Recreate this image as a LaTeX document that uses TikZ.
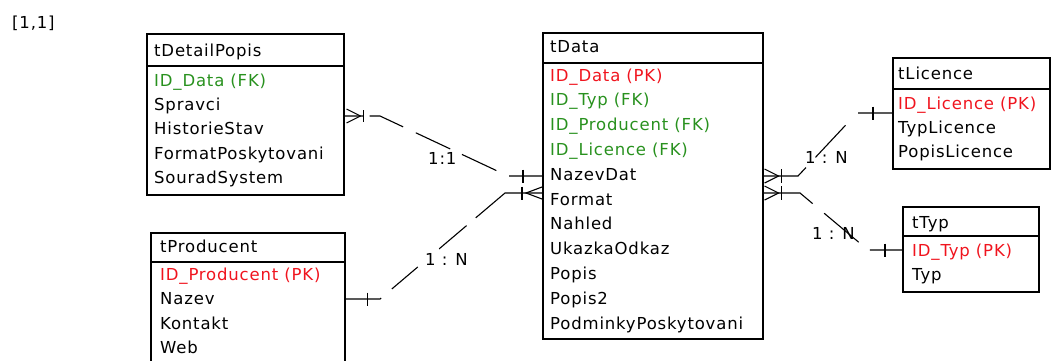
\documentclass[tikz,border=0pt]{standalone}
\usepackage{fontspec}
\setmainfont{DejaVu Sans}[LetterSpace=5]
\definecolor{pkred}{RGB}{240,20,30}
\definecolor{fkgreen}{RGB}{40,145,30}
\tikzset{
  tbl/.style={draw, line width=1.5pt, inner sep=0pt, anchor=north west},
  fld/.style={anchor=base west, inner sep=0pt, font=\fontsize{16.5}{19}\selectfont},
  link/.style={line width=1.1pt},
  foot/.style={line width=1.1pt},
}
\begin{document}
\begin{tikzpicture}[x=1pt,y=-1pt]
\useasboundingbox (0,0) rectangle (1051,360);
\clip (0,0) rectangle (1051,360);

\node[fld] (page) at (12,28) {[1,1]};

% ---- tDetailPopis
\node[tbl, minimum width=197pt, minimum height=32pt] (dpHead) at (146,33) {};
\node[tbl, minimum width=197pt, minimum height=129pt] (dpBody) at (146,65) {};
\node[fld] (dpT) at (154,56) {tDetailPopis};
\foreach \t/\c [count=\i from 0] in {{ID\_Data (FK)}/fkgreen, Spravci/black,
    HistorieStav/black, FormatPoskytovani/black, SouradSystem/black}
  \node[fld, text=\c] (dp\i) at (154,{86+24.4*\i}) {\t};

% ---- tProducent
\node[tbl, minimum width=194pt, minimum height=29pt] (prHead) at (150,232) {};
\node[tbl, minimum width=194pt, minimum height=120pt] (prBody) at (150,261) {};
\node[fld] (prT) at (160,252) {tProducent};
\foreach \t/\c [count=\i from 0] in {{ID\_Producent (PK)}/pkred, Nazev/black,
    Kontakt/black, Web/black}
  \node[fld, text=\c] (pr\i) at (160,{280+24.6*\i}) {\t};

% ---- tData
\node[tbl, minimum width=220pt, minimum height=30pt] (daHead) at (542,32) {};
\node[tbl, minimum width=220pt, minimum height=276pt] (daBody) at (542,62) {};
\node[fld] (daT) at (550,52) {tData};
\foreach \t/\c [count=\i from 0] in {{ID\_Data (PK)}/pkred, {ID\_Typ (FK)}/fkgreen,
    {ID\_Producent (FK)}/fkgreen, {ID\_Licence (FK)}/fkgreen, NazevDat/black,
    Format/black, Nahled/black, UkazkaOdkaz/black, Popis/black, Popis2/black,
    PodminkyPoskytovani/black}
  \node[fld, text=\c] (da\i) at (550,{81+24.8*\i}) {\t};

% ---- tLicence
\node[tbl, minimum width=157pt, minimum height=31pt] (liHead) at (892,57) {};
\node[tbl, minimum width=157pt, minimum height=80pt] (liBody) at (892,88) {};
\node[fld] (liT) at (898,79) {tLicence};
\foreach \t/\c [count=\i from 0] in {{ID\_Licence (PK)}/pkred, TypLicence/black,
    PopisLicence/black}
  \node[fld, text=\c] (li\i) at (898,{109+24*\i}) {\t};

% ---- tTyp
\node[tbl, minimum width=136pt, minimum height=29pt] (tyHead) at (902,206) {};
\node[tbl, minimum width=136pt, minimum height=56pt] (tyBody) at (902,235) {};
\node[fld] (tyT) at (912,228) {tTyp};
\foreach \t/\c [count=\i from 0] in {{ID\_Typ (PK)}/pkred, Typ/black}
  \node[fld, text=\c] (ty\i) at (912,{256+24*\i}) {\t};

% ---- connector end points on the table edges
\coordinate (e1) at (dpBody.east |- 0,116);
\coordinate (e2) at (daBody.west |- 0,176);
\coordinate (e3) at (prBody.east |- 0,299);
\coordinate (e4) at (daBody.west |- 0,193);
\coordinate (e5) at (daBody.east |- 0,176);
\coordinate (e6) at (liBody.west |- 0,113);
\coordinate (e7) at (daBody.east |- 0,193);
\coordinate (e8) at (tyBody.west |- 0,250);

% tDetailPopis -- tData  (1:1)
\draw[link, dash pattern=on 19pt off 6pt on 36pt off 14pt on 38pt off 13pt on 38pt off 14pt on 100pt]
  (e1) -- (380,116) -- (508,176) -- (e2);
\draw[foot] (e1) ++(16,0) -- ++(-14,-7) (e1) ++(16,0) -- ++(-14,7);
\draw[foot] (e1) ++(19,-6) -- ++(0,12);
\draw[foot] (e2) ++(-19,-6.5) -- ++(0,13);
\node[fld] (l1) at (428,164) {1:1};

% tProducent -- tData  (1:N)
\draw[link, dash pattern=on 36pt off 14pt on 34pt off 28pt on 36pt off 12pt on 200pt]
  (e3) -- (380,299) -- (505,193) -- (e4);
\draw[foot] (e3) ++(22,-6.5) -- ++(0,13);
\draw[foot] (e4) ++(-20,-6.5) -- ++(0,13);
\draw[foot] (e4) ++(0,-6) -- ++(-16,6) -- ++(16,6);
\node[fld] (l2) at (425,265) {1 : N};

% tData -- tLicence  (N:1)
\draw[link, dash pattern=on 46pt off 14pt on 44pt off 18pt on 100pt]
  (e5) -- (798,176) -- (857,113) -- (e6);
\draw[foot] (e5) ++(1,-7) -- ++(14,7) -- ++(-14,7);
\draw[foot] (e5) ++(18,-7) -- ++(0,14);
\draw[foot] (e6) ++(-19,-6.5) -- ++(0,13);
\node[fld] (l3) at (805,163) {1 : N};

% tData -- tTyp  (N:1)
\draw[link, dash pattern=on 53pt off 15pt on 45pt off 14pt on 100pt]
  (e7) -- (800,193) -- (868,250) -- (e8);
\draw[foot] (e7) ++(1,-7) -- ++(14,7) -- ++(-14,7);
\draw[foot] (e7) ++(18,-7) -- ++(0,14);
\draw[foot] (e8) ++(-17,-6.5) -- ++(0,13);
\node[fld] (l4) at (812,239) {1 : N};
\end{tikzpicture}
\end{document}
